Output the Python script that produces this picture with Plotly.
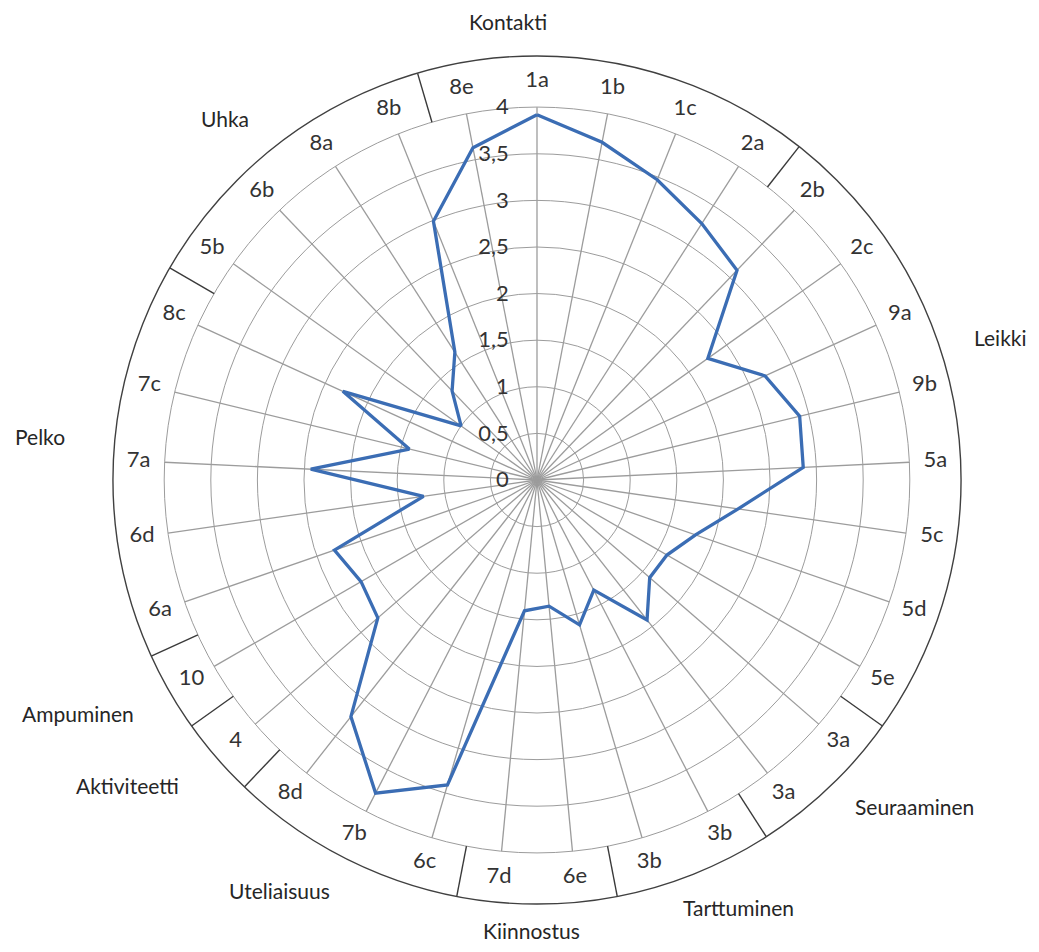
import plotly.graph_objects as go

# ---------------- data ----------------
categories = ["1a", "1b", "1c", "2a", "2b", "2c", "9a", "9b", "5a", "5c", "5d", "5e",
              "3a", "3a", "3b", "3b", "6e", "7d", "6c", "7b", "8d", "4", "10", "6a",
              "6d", "7a", "7c", "8c", "5b", "6b", "8a", "8b", "8e"]
values = [3.92, 3.69, 3.47, 3.27, 3.11, 2.25, 2.69, 2.90, 2.86, 2.18, 1.80, 1.61,
          1.60, 1.91, 1.33, 1.62, 1.36, 1.41, 3.41, 3.78, 3.23, 2.26, 2.18, 2.30,
          1.23, 2.43, 1.41, 2.29, 1.00, 1.32, 1.63, 2.99, 3.63]
radial_ticks = [0, 0.5, 1, 1.5, 2, 2.5, 3, 3.5, 4]
# group boundaries: a separator is drawn after these category indices
group_breaks = [3, 11, 13, 15, 17, 20, 21, 22, 27, 31]
group_names = ["Kontakti", "Leikki", "Seuraaminen", "Tarttuminen", "Kiinnostus",
               "Uteliaisuus", "Aktiviteetti", "Ampuminen", "Pelko", "Uhka"]
# group label placement (pixel positions in the 1039x952 page)
group_pos = [(508, 22), (1000, 337), (914, 806), (738, 907), (531, 930),
             (279, 890), (127, 785), (78, 713), (40, 437), (225, 118)]

PAGE_OFF = 8                       # default body margin of the html page
W, H = 1039 - 2 * PAGE_OFF, 952 - 2 * PAGE_OFF
CX, CY = 537 - PAGE_OFF, 480 - PAGE_OFF
RMAX = 4.55
PX_PER_UNIT = 93.2
R_PX = RMAX * PX_PER_UNIT
FONT = "Lato"

n = len(categories)
step = 360.0 / n
theta = [i * step for i in range(n)]

fig = go.Figure()

# spokes (only up to the 4 ring)
sp_r, sp_t = [], []
for t in theta:
    sp_r += [0, max(radial_ticks), None]
    sp_t += [t, t, None]
fig.add_trace(go.Scatterpolar(r=sp_r, theta=sp_t, mode="lines",
                              line=dict(color="#9c9c9c", width=1.3),
                              hoverinfo="skip", showlegend=False))

# group separators in the outer ring
se_r, se_t = [], []
for b in group_breaks:
    t = (b + 0.5) * step
    se_r += [max(radial_ticks), RMAX, None]
    se_t += [t, t, None]
fig.add_trace(go.Scatterpolar(r=se_r, theta=se_t, mode="lines",
                              line=dict(color="#3a3a3a", width=1.4),
                              hoverinfo="skip", showlegend=False))

# data line
fig.add_trace(go.Scatterpolar(r=values + [values[0]], theta=theta + [theta[0]],
                              mode="lines", line=dict(color="#3b6db4", width=3.3),
                              showlegend=False))

# category labels
fig.add_trace(go.Scatterpolar(r=[4.28] * n, theta=theta, mode="text", text=categories,
                              textfont=dict(family=FONT, size=22, color="#333333"),
                              hoverinfo="skip", showlegend=False))

fig.update_layout(
    width=W, height=H,
    margin=dict(l=0, r=0, t=0, b=0),
    paper_bgcolor="white",
    plot_bgcolor="white",
    showlegend=False,
    polar=dict(
        domain=dict(x=[(CX - R_PX) / W, (CX + R_PX) / W],
                    y=[1 - (CY + R_PX) / H, 1 - (CY - R_PX) / H]),
        bgcolor="white",
        angularaxis=dict(type="linear", thetaunit="degrees", rotation=90,
                         direction="clockwise", showgrid=False, showticklabels=False,
                         ticks="", showline=True, linecolor="#404040", linewidth=1.4),
        radialaxis=dict(range=[0, RMAX], angle=90, tickangle=90,
                        tickvals=radial_ticks,
                        ticktext=[("%g" % v).replace(".", ",") for v in radial_ticks],
                        showgrid=True, gridcolor="#9c9c9c", gridwidth=1.3,
                        showline=False, ticks="outside", ticklen=20,
                        tickcolor="rgba(0,0,0,0)", side="counterclockwise",
                        tickfont=dict(family=FONT, size=22, color="#333333")),
    ),
)

for name, (px, py) in zip(group_names, group_pos):
    fig.add_annotation(x=(px - PAGE_OFF) / W, y=1 - (py - PAGE_OFF) / H,
                       xref="paper", yref="paper",
                       text=name, showarrow=False, xanchor="center", yanchor="middle",
                       font=dict(family=FONT, size=21, color="#262626"))

fig.write_html("out.html")
